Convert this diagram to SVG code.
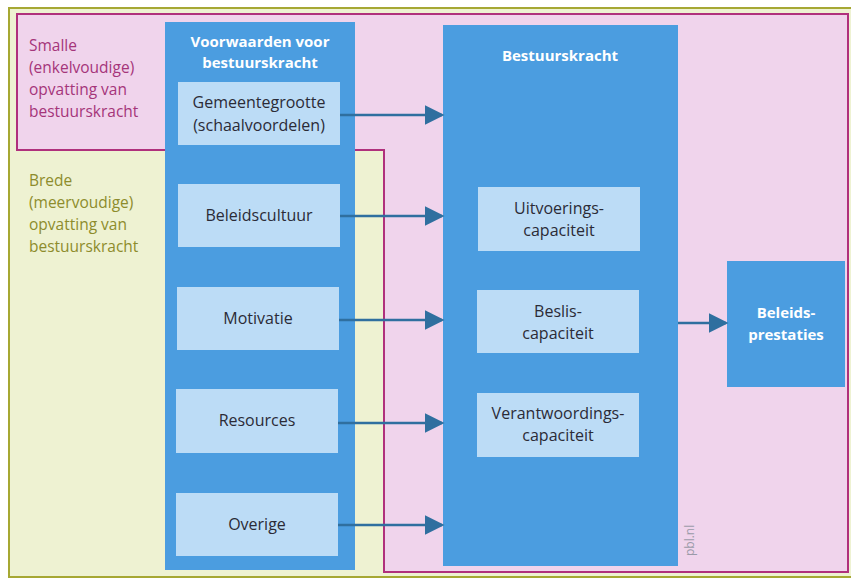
<svg xmlns="http://www.w3.org/2000/svg" width="851" height="580" viewBox="0 0 851 580">
<style>
.col{fill:#4b9de0}
.box{fill:#bcdcf6}
.t{font-family:"Open Sans","Noto Sans",sans-serif;font-size:16px;fill:#2b2b36;text-anchor:middle}
.w{font-family:"Open Sans","Noto Sans",sans-serif;font-size:15px;font-weight:bold;fill:#ffffff;text-anchor:middle}
.lbl{font-family:"Open Sans","Noto Sans",sans-serif;font-size:15.5px}
.conn line{stroke:#2f6f9f;stroke-width:2.5}
</style>
<defs>
<marker id="ah" markerWidth="8" markerHeight="8" refX="7" refY="4" orient="auto" markerUnits="strokeWidth">
<path d="M0,0 L8,4 L0,8 Z" fill="#2f6f9f"/>
</marker>
</defs>
<rect x="0" y="0" width="851" height="580" fill="#ffffff"/>
<g id="brede">
<rect x="9" y="8" width="850" height="569" fill="#eef2d2" stroke="#a6a833" stroke-width="2"/>
<text class="lbl" fill="#8d8c2c" x="29" y="186">Brede</text>
<text class="lbl" fill="#8d8c2c" x="29" y="208">(meervoudige)</text>
<text class="lbl" fill="#8d8c2c" x="29" y="230">opvatting van</text>
<text class="lbl" fill="#8d8c2c" x="29" y="252">bestuurskracht</text>
</g>
<g id="smalle">
<polygon points="17,14 848,14 848,572 384,572 384,150 17,150" fill="#f0d4ec" stroke="#b0307c" stroke-width="2"/>
<text class="lbl" fill="#a5357a" x="29" y="51">Smalle</text>
<text class="lbl" fill="#a5357a" x="29" y="73">(enkelvoudige)</text>
<text class="lbl" fill="#a5357a" x="29" y="95">opvatting van</text>
<text class="lbl" fill="#a5357a" x="29" y="117">bestuurskracht</text>
</g>
<g id="voorwaarden">
<rect class="col" x="165" y="22" width="190" height="548"/>
<text class="w" x="260" y="47">Voorwaarden voor</text>
<text class="w" x="260" y="68">bestuurskracht</text>
</g>
<g id="gemeentegrootte">
<rect class="box" x="178" y="82" width="162" height="63"/>
<text class="t" x="259" y="108">Gemeentegrootte</text>
<text class="t" x="259" y="131">(schaalvoordelen)</text>
</g>
<g id="beleidscultuur">
<rect class="box" x="178" y="184" width="162" height="63"/>
<text class="t" x="259" y="221">Beleidscultuur</text>
</g>
<g id="motivatie">
<rect class="box" x="177" y="287" width="162" height="63"/>
<text class="t" x="258" y="324">Motivatie</text>
</g>
<g id="resources">
<rect class="box" x="176" y="389" width="162" height="64"/>
<text class="t" x="257" y="426">Resources</text>
</g>
<g id="overige">
<rect class="box" x="176" y="493" width="162" height="63"/>
<text class="t" x="257" y="530">Overige</text>
</g>
<g id="bestuurskracht">
<rect class="col" x="443" y="25" width="235" height="541"/>
<text class="w" x="560" y="61">Bestuurskracht</text>
</g>
<g id="uitvoering">
<rect class="box" x="478" y="187" width="162" height="64"/>
<text class="t" x="559" y="214">Uitvoerings-</text>
<text class="t" x="559" y="236">capaciteit</text>
</g>
<g id="beslis">
<rect class="box" x="477" y="290" width="162" height="63"/>
<text class="t" x="558" y="317">Beslis-</text>
<text class="t" x="558" y="339">capaciteit</text>
</g>
<g id="verantwoording">
<rect class="box" x="477" y="393" width="162" height="64"/>
<text class="t" x="558" y="419">Verantwoordings-</text>
<text class="t" x="558" y="441">capaciteit</text>
</g>
<g id="beleidsprestaties">
<rect class="col" x="727" y="261" width="118" height="126"/>
<text class="w" x="786" y="318">Beleids-</text>
<text class="w" x="786" y="340">prestaties</text>
</g>
<text x="694" y="556" transform="rotate(-90 694 556)" font-family="'Open Sans','Noto Sans',sans-serif" font-size="12" fill="#9a9aa8">pbl.nl</text>
<g class="conn" id="connectors">
<line x1="340" y1="115" x2="442" y2="115" marker-end="url(#ah)"/>
<line x1="340" y1="216" x2="442" y2="216" marker-end="url(#ah)"/>
<line x1="339" y1="320" x2="442" y2="320" marker-end="url(#ah)"/>
<line x1="338" y1="423" x2="442" y2="423" marker-end="url(#ah)"/>
<line x1="338" y1="525" x2="442" y2="525" marker-end="url(#ah)"/>
<line x1="678" y1="323" x2="726" y2="323" marker-end="url(#ah)"/>
</g>
</svg>
